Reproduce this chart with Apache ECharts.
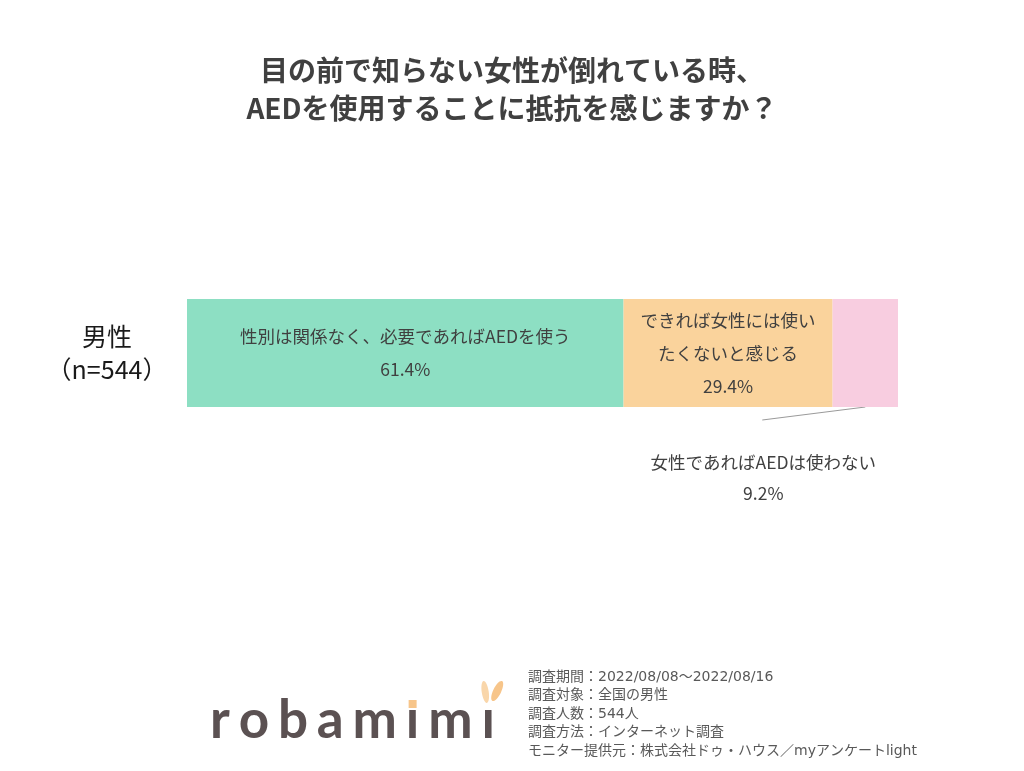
<!DOCTYPE html>
<html><head><meta charset="utf-8">
<script src="https://cdn.jsdelivr.net/npm/echarts@6/dist/echarts.min.js"></script>
<style>html,body{margin:0;padding:0;background:#fff}#c{width:1024px;height:771px}</style>
</head><body><div id="c"></div>
<script>
const titleText = '目の前で知らない女性が倒れている時、\nAEDを使用することに抵抗を感じますか？';
const categories = ['男性\n（n=544）'];
const seriesNames = ['性別は関係なく、必要であればAEDを使う', 'できれば女性には使い\nたくないと感じる', '女性であればAEDは使わない'];
const values = [61.4, 29.4, 9.2];
const colors = ['#8ddfc3', '#fad39c', '#f8cde0'];
const footerLines = ['調査期間：2022/08/08～2022/08/16', '調査対象：全国の男性', '調査人数：544人', '調査方法：インターネット調査', 'モニター提供元：株式会社ドゥ・ハウス／myアンケートlight'];
const logoLetters = ['r', 'o', 'b', 'a', 'm', 'ı', 'm', 'ı'];

const FONT = '"Noto Sans CJK JP", "Noto Sans", sans-serif';
const chart = echarts.init(document.getElementById('c'), null, {renderer: 'canvas'});

const series = values.map((v, i) => {
  const s = {
    name: seriesNames[i],
    type: 'bar',
    stack: 'total',
    barWidth: 108,
    data: [v],
    itemStyle: {color: colors[i]},
    emphasis: {disabled: true},
    label: {
      show: true,
      position: 'inside',
      formatter: () => seriesNames[i] + '\n' + values[i].toFixed(1) + '%',
      color: '#404040',
      fontSize: 17.5,
      lineHeight: 33,
      fontFamily: FONT
    }
  };
  if (i === 2) {
    s.label.position = 'bottom';
    s.label.distance = 0;
    s.label.lineHeight = 31;
    s.labelLayout = {dx: -102, dy: 40};
  }
  return s;
});

chart.setOption({
  backgroundColor: '#ffffff',
  animation: false,
  title: {
    text: titleText,
    left: 'center',
    top: 46,
    textStyle: {fontSize: 28, fontWeight: 'bold', color: '#404040', lineHeight: 38, fontFamily: FONT}
  },
  grid: {left: 187, right: 126, top: 299, bottom: 364, containLabel: false},
  xAxis: {type: 'value', min: 0, max: 100, show: false},
  yAxis: {
    type: 'category',
    data: categories,
    axisLine: {show: false},
    axisTick: {show: false},
    axisLabel: {
      color: '#1a1a1a', fontSize: 25, lineHeight: 33, align: 'center', margin: 80, fontFamily: FONT
    }
  },
  series: series
});

// leader line for the small segment, anchored on the bar through the chart's own scale
const cumBefore = values[0] + values[1];
const pCenter = chart.convertToPixel({gridIndex: 0}, [cumBefore + values[2] / 2, 0]);
const barBottom = pCenter[1] + 54;

// logo letters laid out with letter spacing
const logoFont = 'bold 53px Lato, "Open Sans", sans-serif';
const ctx = document.createElement('canvas').getContext('2d');
ctx.font = logoFont;
const widths = logoLetters.map(ch => ctx.measureText(ch).width);
const logoLeft = 210, logoRight = 495;
const sumW = widths.reduce((a, b) => a + b, 0);
const spacing = (logoRight - logoLeft - sumW) / (logoLetters.length - 1);
const logoEls = [];
let xCur = logoLeft;
const letterX = [];
logoLetters.forEach((ch, k) => {
  letterX.push(xCur);
  logoEls.push({type: 'text', x: xCur, y: 694, style: {text: ch, font: logoFont, fill: '#5b5152', verticalAlign: 'top'}});
  xCur += widths[k] + spacing;
});
const iDotX = letterX[5] + widths[5] / 2;
const lastIX = letterX[7] + widths[7] / 2;

chart.setOption({
  graphic: [
    {
      type: 'line',
      shape: {x1: pCenter[0], y1: barBottom, x2: pCenter[0] - 103, y2: barBottom + 13},
      style: {stroke: '#9a9a9a', lineWidth: 1}
    },
    {
      type: 'text', left: 528, top: 668,
      style: {text: footerLines.join('\n'), lineHeight: 18.5, fill: '#595959', font: '14px "DejaVu Sans", ' + FONT}
    },
    ...logoEls,
    {
      type: 'rect', shape: {x: iDotX - 4, y: 700, width: 8, height: 8},
      style: {fill: '#f7c58a'}
    },
    {
      type: 'ellipse', shape: {cx: lastIX - 3, cy: 692, rx: 3.5, ry: 11},
      rotation: 0.15, originX: lastIX - 3, originY: 692,
      style: {fill: '#f9d6aa'}
    },
    {
      type: 'ellipse', shape: {cx: lastIX + 9, cy: 691, rx: 4, ry: 11},
      rotation: -0.45, originX: lastIX + 9, originY: 691,
      style: {fill: '#f7c58a'}
    }
  ]
});
</script></body></html>
